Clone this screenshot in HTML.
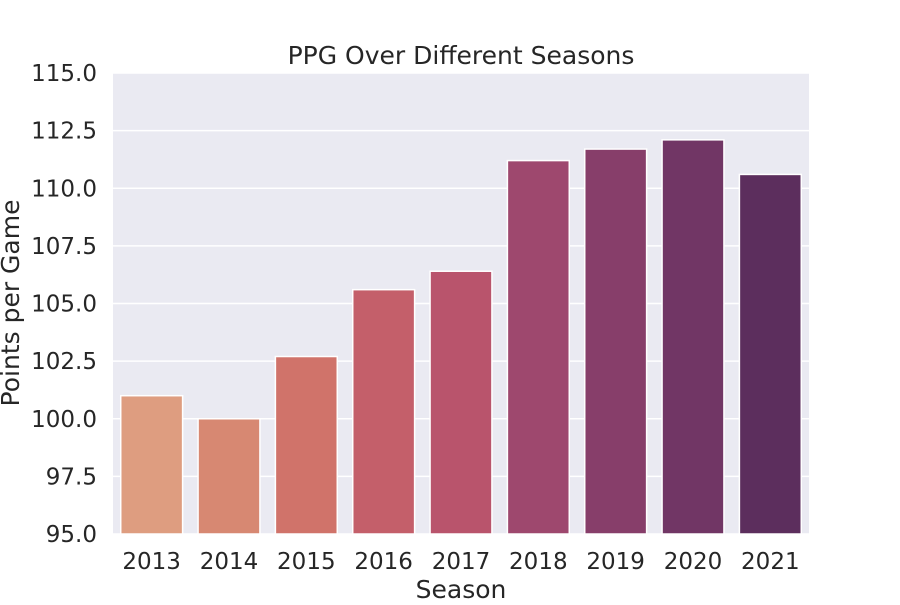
<!DOCTYPE html>
<html><head><meta charset="utf-8"><style>
body{margin:0;background:#fff;}
svg text{font-family:"DejaVu Sans","Liberation Sans",sans-serif;fill:#262626;}
</style></head><body>
<svg width="900" height="600" viewBox="0 0 900 600">
<rect x="113" y="73" width="696" height="461" fill="#eaeaf2"/>
<g id="grid"></g><g id="bars"></g><g id="yt"></g><g id="xt"></g>
<text x="461" y="64" font-size="25" text-anchor="middle">PPG Over Different Seasons</text>
<text x="461" y="598" font-size="25" text-anchor="middle">Season</text>
<text transform="translate(19,303) rotate(-90)" font-size="25" text-anchor="middle">Points per Game</text>
</svg>
<script>
const seasons=["2013","2014","2015","2016","2017","2018","2019","2020","2021"];
const ppg=[101.0,100.0,102.7,105.6,106.4,111.2,111.7,112.1,110.6];
const yTicks=[95,97.5,100,102.5,105,107.5,110,112.5,115];
const colors=["#de9d80","#d78872","#d0736a","#c45f6a","#b9546c","#9e486e","#873e6a","#713665","#5c2e5d"];
const L=113,R=809,T=73,B=534,ymin=95,ymax=115;
const y=v=>B-(v-ymin)/(ymax-ymin)*(B-T);
const bw=(R-L)/seasons.length;
const x=i=>L+bw*(i+0.5);
const NS="http://www.w3.org/2000/svg";
function mk(t,a,p){const e=document.createElementNS(NS,t);for(const k in a)e.setAttribute(k,a[k]);p.appendChild(e);return e;}
const g=document.getElementById('grid'),yt=document.getElementById('yt'),bars=document.getElementById('bars'),xt=document.getElementById('xt');
yTicks.forEach(v=>{
 const l=mk('line',{x1:L,x2:R,y1:y(v),y2:y(v),stroke:'#fff','stroke-width':1.5},g);
 
 
 const t=mk('text',{x:L-16,y:y(v)+8,'font-size':23,'text-anchor':'end'},yt);
 t.textContent=v.toFixed(1);
 
 
});
seasons.forEach((s,i)=>{
 const w=bw*0.8,top=y(ppg[i]);
 const r=mk('rect',{x:x(i)-w/2,y:top,width:w,height:B-top,fill:colors[i],stroke:'#fff','stroke-width':1.5},bars);
 
 
 const t=mk('text',{x:x(i),y:B+35,'font-size':23,'text-anchor':'middle'},xt);
 t.textContent=s;
 
 
});
</script>
</body></html>
